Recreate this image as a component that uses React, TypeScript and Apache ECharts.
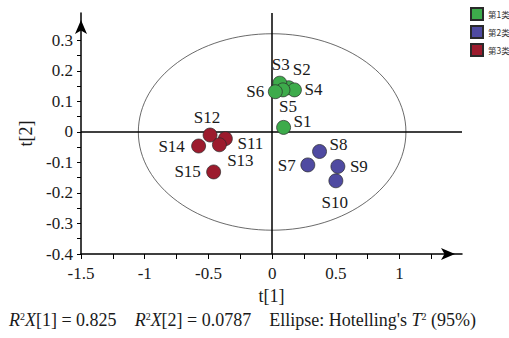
import React, { useEffect, useRef } from "react";
import * as echarts from "echarts";

// ---- data ----
const groupNames = ["第1类", "第2类", "第3类"];
const groupColors = ["#3dab4b", "#4f4aa1", "#9c1b2d"];

const g1Names = ["S1", "S2", "S3", "S4", "S5", "S6"];
const g1X = [0.09, 0.13, 0.06, 0.175, 0.085, 0.025];
const g1Y = [0.015, 0.145, 0.16, 0.138, 0.138, 0.132];

const g2Names = ["S7", "S8", "S9", "S10"];
const g2X = [0.28, 0.372, 0.516, 0.5];
const g2Y = [-0.108, -0.064, -0.113, -0.16];

const g3Names = ["S11", "S12", "S13", "S14", "S15"];
const g3X = [-0.367, -0.487, -0.414, -0.577, -0.459];
const g3Y = [-0.022, -0.01, -0.042, -0.046, -0.131];

// Hotelling's T2 ellipse: center x, center y, radius x, radius y
const ellipseParams = [0, 0, 1.05, 0.322];

const xTickValues = [-1.5, -1.25, -1, -0.75, -0.5, -0.25, 0, 0.25, 0.5, 0.75, 1, 1.25];
const xLabelValues = [-1.5, -1, -0.5, 0, 0.5, 1];
const yTickValues = [-0.4, -0.35, -0.3, -0.25, -0.2, -0.15, -0.1, -0.05, 0, 0.05, 0.1, 0.15, 0.2, 0.25, 0.3];
const yLabelValues = [-0.4, -0.3, -0.2, -0.1, 0, 0.1, 0.2, 0.3];

// label offsets (px) relative to point centre
const labelOffsets: Record<string, [number, number]> = {
  S1: [19, -6],
  S2: [13, -18],
  S3: [1, -19],
  S4: [19, 0],
  S5: [5, 17],
  S6: [-20, 0],
  S7: [-21, 1],
  S8: [19, -7],
  S9: [21, 0],
  S10: [-1, 22],
  S11: [25, 5],
  S12: [-3, -18],
  S13: [21, 16],
  S14: [-27, 0],
  S15: [-26, 0],
};

const SERIF = "Liberation Serif";
const CJK = "Noto Sans CJK SC";

function buildPoints(names: string[], xs: number[], ys: number[]) {
  return names.map((n, i) => ({
    name: n,
    value: [xs[i], ys[i]],
    label: {
      show: true,
      position: "inside",
      offset: labelOffsets[n],
      formatter: n,
      color: "#1a1a1a",
      fontFamily: SERIF,
      fontSize: 17,
    },
  }));
}

const fmt = (v: number) => {
  const r = Math.round(v * 100) / 100;
  return String(r);
};

export default function App() {
  const ref = useRef<HTMLDivElement>(null);
  useEffect(() => {
    if (!ref.current) return;
    const chart = echarts.init(ref.current, null, { renderer: "svg" });
    const groups = [
      buildPoints(g1Names, g1X, g1Y),
      buildPoints(g2Names, g2X, g2Y),
      buildPoints(g3Names, g3X, g3Y),
    ];
    const scatterSeries = groups.map((data, i) => ({
      type: "scatter",
      name: groupNames[i],
      data,
      symbol: "circle",
      symbolSize: 14,
      itemStyle: { color: groupColors[i], borderColor: "#2a2a2a", borderWidth: 0.7, opacity: 1 },
      z: 5,
    }));
    const option: any = {
      animation: false,
      backgroundColor: "#ffffff",
      textStyle: { fontFamily: SERIF },
      grid: { left: 81, right: 47, top: 13, bottom: 84, containLabel: false, outerBoundsMode: "none" },
      legend: {
        orient: "vertical",
        left: 470,
        top: 7,
        padding: 0,
        itemWidth: 12,
        itemHeight: 12,
        itemGap: 4,
        icon: "rect",
        data: groupNames,
        textStyle: { fontFamily: CJK, fontSize: 8.5, color: "#333" },
      },
      xAxis: {
        type: "value",
        min: -1.5,
        max: 1.49,
        name: "t[1]",
        nameLocation: "middle",
        nameGap: 33,
        nameTextStyle: { fontFamily: SERIF, fontSize: 18, color: "#1a1a1a" },
        splitLine: { show: false },
        axisLine: {
          onZero: false,
          lineStyle: { color: "#000", width: 1.5 },
          symbol: ["none", "arrow"],
          symbolSize: [9, 14],
          symbolOffset: [0, -7],
        },
        axisTick: { show: true, inside: false, length: 5, customValues: xTickValues, lineStyle: { color: "#000", width: 1 } },
        axisLabel: {
          customValues: xLabelValues,
          formatter: fmt,
          margin: 11,
          fontFamily: SERIF,
          fontSize: 17,
          color: "#1a1a1a",
        },
      },
      yAxis: {
        type: "value",
        min: -0.4,
        max: 0.39,
        name: "t[2]",
        nameLocation: "middle",
        nameGap: 42,
        nameTextStyle: { fontFamily: SERIF, fontSize: 18, color: "#1a1a1a" },
        splitLine: { show: false },
        axisLine: {
          onZero: false,
          lineStyle: { color: "#000", width: 1.5 },
          symbol: ["none", "arrow"],
          symbolSize: [9, 14],
          symbolOffset: [0, -7],
        },
        axisTick: { show: true, inside: false, length: 4, customValues: yTickValues, lineStyle: { color: "#000", width: 1 } },
        axisLabel: {
          customValues: yLabelValues,
          formatter: fmt,
          margin: 8,
          fontFamily: SERIF,
          fontSize: 17,
          color: "#1a1a1a",
        },
      },
      graphic: [
        {
          type: "text",
          left: 9,
          top: 311,
          style: {
            text: "{i|R}{s|2}{i|X}[1] = 0.825    {i|R}{s|2}{i|X}[2] = 0.0787    Ellipse: Hotelling's {i|T}{s|2} (95%)",
            fontFamily: SERIF,
            fontSize: 18,
            fill: "#1a1a1a",
            rich: {
              i: { fontFamily: SERIF, fontSize: 18, fontStyle: "italic", fill: "#1a1a1a" },
              s: { fontFamily: SERIF, fontSize: 10, verticalAlign: "top", fill: "#1a1a1a", lineHeight: 18 },
            },
          },
        },
      ],
      series: [
        {
          type: "custom",
          name: "ellipse",
          silent: true,
          data: [ellipseParams],
          renderItem: (params: any, api: any) => {
            const c = api.coord([api.value(0), api.value(1)]);
            const s = api.size([api.value(2), api.value(3)]);
            return {
              type: "ellipse",
              shape: { cx: c[0], cy: c[1], rx: s[0], ry: s[1] },
              style: { fill: "none", stroke: "#444", lineWidth: 0.8 },
            };
          },
          z: 1,
        },
        {
          type: "scatter",
          name: "axes0",
          data: [],
          silent: true,
          markLine: {
            silent: true,
            symbol: ["none", "none"],
            label: { show: false },
            lineStyle: { color: "#000", width: 1.5, type: "solid" },
            data: [{ xAxis: 0 }, { yAxis: 0 }],
          },
          z: 2,
        },
        ...scatterSeries,
      ],
    };
    chart.setOption(option);
    return () => chart.dispose();
  }, []);
  return (
    <div
      ref={ref}
      style={{ position: "absolute", left: 0, top: 0, width: 509, height: 338 }}
    />
  );
}
